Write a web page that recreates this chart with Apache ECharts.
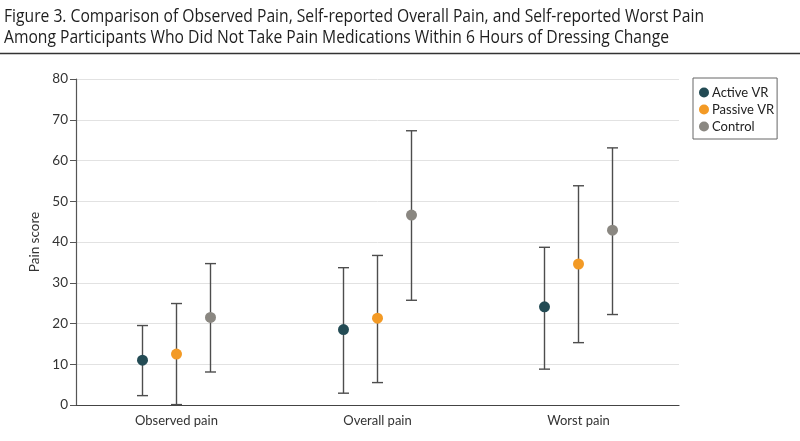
<!DOCTYPE html>
<html>
<head>
<meta charset="utf-8">
<script src="https://cdn.jsdelivr.net/npm/echarts@6/dist/echarts.min.js"></script>
<style>
html,body{margin:0;padding:0;background:#fff;}
#c{width:800px;height:441px;}
</style>
</head>
<body>
<div id="c"></div>
<script>
const titleLines = [
  "Figure 3. Comparison of Observed Pain, Self-reported Overall Pain, and Self-reported Worst Pain",
  "Among Participants Who Did Not Take Pain Medications Within 6 Hours of Dressing Change"
];
const categories = ["Observed pain", "Overall pain", "Worst pain"];
const groupNames = ["Active VR", "Passive VR", "Control"];
const groupColors = ["#234b54", "#f39a25", "#8a8781"];
// mean, lower, upper
const activeMean = [11.0, 18.5, 24.1];
const activeLow = [2.3, 2.9, 8.8];
const activeHigh = [19.5, 33.7, 38.7];
const passiveMean = [12.5, 21.3, 34.6];
const passiveLow = [0.1, 5.5, 15.3];
const passiveHigh = [24.9, 36.7, 53.8];
const controlMean = [21.5, 46.6, 42.9];
const controlLow = [8.1, 25.7, 22.2];
const controlHigh = [34.7, 67.3, 63.1];
const yTicks = [0, 10, 20, 30, 40, 50, 60, 70, 80];

const groups = [
  [activeMean, activeLow, activeHigh],
  [passiveMean, passiveLow, passiveHigh],
  [controlMean, controlLow, controlHigh]
];
const offsets = [-34, 0, 34];
const FONT = 'Lato';
const TITLE_FONT = 'Open Sans';
const TITLE_SIZE = 18;

// condense the title horizontally to match the narrow typeface of the original
const ctx = document.createElement('canvas').getContext('2d');
ctx.font = TITLE_SIZE + 'px "' + TITLE_FONT + '"';
const titleScale = Math.min(1, 700 / ctx.measureText(titleLines[0]).width);

function makeRender(offset, color) {
  return function (params, api) {
    const ci = api.value(0);
    const pm = api.coord([ci, api.value(1)]);
    const pl = api.coord([ci, api.value(2)]);
    const ph = api.coord([ci, api.value(3)]);
    const x = pm[0] + offset;
    const barStyle = { stroke: '#4d4d4d', lineWidth: 1.4 };
    return {
      type: 'group',
      children: [
        { type: 'line', shape: { x1: x, y1: pl[1], x2: x, y2: ph[1] }, style: barStyle },
        { type: 'line', shape: { x1: x - 5.5, y1: pl[1], x2: x + 5.5, y2: pl[1] }, style: barStyle },
        { type: 'line', shape: { x1: x - 5.5, y1: ph[1], x2: x + 5.5, y2: ph[1] }, style: barStyle },
        { type: 'circle', shape: { cx: x, cy: pm[1], r: 5.5 }, style: { fill: color } }
      ]
    };
  };
}

const series = groups.map((g, i) => ({
  name: groupNames[i],
  type: 'custom',
  itemStyle: { color: groupColors[i] },
  renderItem: makeRender(offsets[i], groupColors[i]),
  encode: { x: 0, y: [1, 2, 3] },
  data: categories.map((c, k) => [k, g[0][k], g[1][k], g[2][k]])
}));

function titleText(line, y) {
  return {
    type: 'text', x: 4, y: y, scaleX: titleScale, scaleY: 1,
    style: {
      text: line, fontFamily: TITLE_FONT, fontSize: TITLE_SIZE, fontWeight: 'normal',
      fill: '#1e1e1e', verticalAlign: 'top', align: 'left'
    }
  };
}

const chart = echarts.init(document.getElementById('c'), null, { renderer: 'canvas' });
chart.setOption({
  animation: false,
  backgroundColor: '#fff',
  textStyle: { fontFamily: FONT },
  graphic: [
    titleText(titleLines[0], 8),
    titleText(titleLines[1], 29),
    { type: 'line', shape: { x1: 0, y1: 53.5, x2: 800, y2: 53.5 }, style: { stroke: '#333', lineWidth: 1.5 } }
  ],
  legend: {
    orient: 'vertical',
    left: 693,
    top: 78,
    padding: [8, 3, 6, 6],
    itemWidth: 10,
    itemHeight: 10,
    itemGap: 4,
    icon: 'circle',
    borderColor: '#666',
    borderWidth: 1,
    borderRadius: 0,
    data: groupNames,
    textStyle: { fontFamily: FONT, fontSize: 13, color: '#222', padding: [0, 0, 0, -2] }
  },
  grid: { left: 76, right: 121, top: 79, bottom: 36, containLabel: false },
  xAxis: {
    type: 'category',
    data: categories,
    axisLine: { lineStyle: { color: '#444', width: 1.2 } },
    axisTick: { show: false },
    axisLabel: { fontFamily: FONT, fontSize: 13, color: '#333', margin: 9 }
  },
  yAxis: {
    type: 'value',
    min: yTicks[0],
    max: yTicks[yTicks.length - 1],
    interval: yTicks[1] - yTicks[0],
    name: 'Pain score',
    nameLocation: 'middle',
    nameGap: 33,
    nameTextStyle: { fontFamily: FONT, fontSize: 13.5, color: '#333' },
    axisLine: { show: true, lineStyle: { color: '#555', width: 1.2 } },
    axisTick: { show: true, length: 6, lineStyle: { color: '#555' } },
    axisLabel: { fontFamily: FONT, fontSize: 13.5, color: '#333', margin: 8 },
    splitLine: { lineStyle: { color: '#e2e2e2', width: 1 } }
  },
  series: series
});
</script>
</body>
</html>
